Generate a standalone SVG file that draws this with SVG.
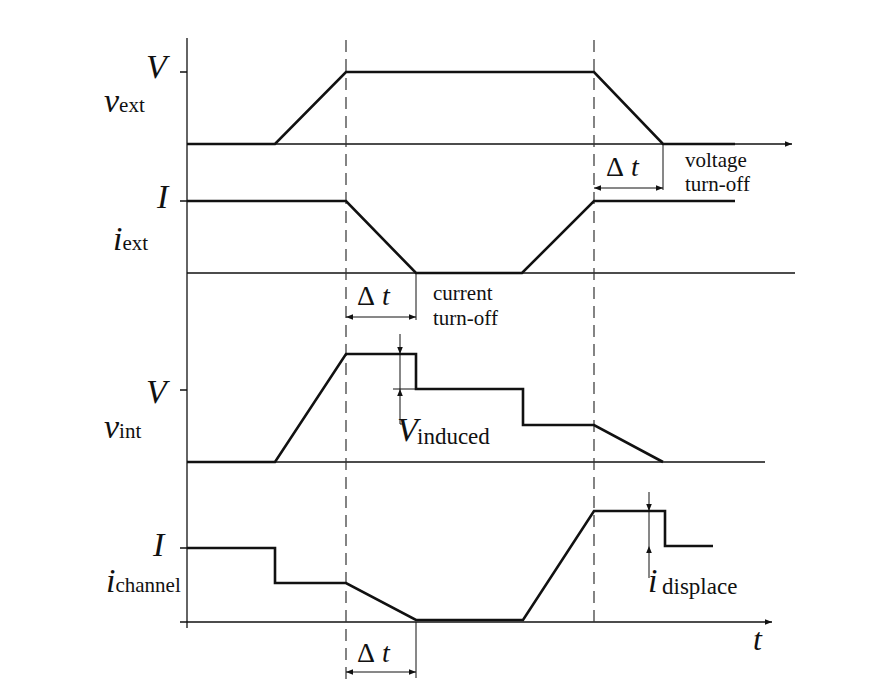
<svg xmlns="http://www.w3.org/2000/svg" width="884" height="686" viewBox="0 0 884 686">
<style>
.ax{stroke:#111;stroke-width:1.3;fill:none}
.w{stroke:#111;stroke-width:2.6;fill:none;stroke-linejoin:miter}
.d{stroke:#333;stroke-width:1.2;stroke-dasharray:12,7;fill:none}
.t{stroke:#111;stroke-width:1;fill:none}
.L{font-family:"Liberation Serif",serif;font-style:italic;fill:#111}
.s{font-family:"Liberation Serif",serif;font-style:normal;fill:#111}
.n{font-family:"Liberation Serif",serif;font-size:21px;fill:#111}
</style>
<defs>
<marker id="ah" viewBox="0 0 10 10" refX="10" refY="5" markerWidth="12" markerHeight="7" markerUnits="userSpaceOnUse" orient="auto"><path d="M0,1 L10,5 L0,9 Z" fill="#111"/></marker>
</defs>
<rect width="884" height="686" fill="#fff"/>
<g id="axes">
<line class="ax" x1="187" y1="38" x2="187" y2="628"/>
<line class="ax" x1="187" y1="144" x2="792" y2="144" marker-end="url(#ah)"/>
<line class="ax" x1="187" y1="273" x2="795" y2="273"/>
<line class="ax" x1="187" y1="462" x2="765" y2="462"/>
<line class="ax" x1="180" y1="622" x2="772" y2="622" marker-end="url(#ah)"/>
<path class="ax" d="M180,72H187M180,201H187M180,390H187M180,548H187"/>
<line class="d" x1="346" y1="40" x2="346" y2="682"/>
<line class="d" x1="594" y1="40" x2="594" y2="626"/>
</g>
<g id="connectors">
<path class="w" d="M187,144H275L346,72H594L663,144H735"/>
<path class="w" d="M187,201H346L416,273H522L594,201H735"/>
<path class="w" d="M187,462H275L346,354H416V389H523V425H594L663,462"/>
<path class="w" d="M187,548H275V583H346L416,620H523L594,511H665V546H713"/>
<path class="t" d="M663,144V190"/>
<line class="t" x1="628" y1="188" x2="594" y2="188" marker-end="url(#ah)"/>
<line class="t" x1="628" y1="188" x2="663" y2="188" marker-end="url(#ah)"/>
<path class="t" d="M416,273V320"/>
<line class="t" x1="381" y1="317" x2="346" y2="317" marker-end="url(#ah)"/>
<line class="t" x1="381" y1="317" x2="416" y2="317" marker-end="url(#ah)"/>
<path class="t" d="M416,622V678"/>
<line class="t" x1="381" y1="672" x2="346" y2="672" marker-end="url(#ah)"/>
<line class="t" x1="381" y1="672" x2="416" y2="672" marker-end="url(#ah)"/>
<line class="t" x1="400" y1="334" x2="400" y2="354" marker-end="url(#ah)"/>
<line class="t" x1="400" y1="354" x2="400" y2="389"/>
<line class="t" x1="393" y1="389" x2="416" y2="389"/>
<line class="t" x1="400" y1="412" x2="400" y2="389" marker-end="url(#ah)"/>
<path class="t" d="M400,412V424H404"/>
<line class="t" x1="649" y1="492" x2="649" y2="511" marker-end="url(#ah)"/>
<line class="t" x1="649" y1="511" x2="649" y2="546"/>
<line class="t" x1="649" y1="566" x2="649" y2="546" marker-end="url(#ah)"/>
<path class="t" d="M649,566V578"/>
</g>
<g id="labels">
<text class="L" x="146" y="78" font-size="34">V</text>
<text class="L" x="104" y="112" font-size="34">v<tspan class="s" font-size="21">ext</tspan></text>
<text class="L" x="157" y="208" font-size="34">I</text>
<text class="L" x="113" y="250" font-size="34">i<tspan class="s" font-size="21">ext</tspan></text>
<text class="L" x="146" y="403" font-size="34">V</text>
<text class="L" x="104" y="438" font-size="34">v<tspan class="s" font-size="21">int</tspan></text>
<text class="L" x="153" y="556" font-size="34">I</text>
<text class="L" x="106" y="592" font-size="34">i<tspan class="s" font-size="21">channel</tspan></text>
<text class="L" x="397" y="441" font-size="34">V</text>
<text class="s" x="417" y="444" font-size="23">induced</text>
<text class="L" x="648" y="592" font-size="34">i</text>
<text class="s" x="662" y="594" font-size="23">displace</text>
<text class="L" x="753" y="650" font-size="32">t</text>
<text class="L" x="606" y="176" font-size="28"><tspan class="s">Δ</tspan> t</text>
<text class="L" x="357" y="305" font-size="28"><tspan class="s">Δ</tspan> t</text>
<text class="L" x="357" y="662" font-size="28"><tspan class="s">Δ</tspan> t</text>
<text class="n" x="685" y="167">voltage</text>
<text class="n" x="685" y="191">turn-off</text>
<text class="n" x="433" y="300">current</text>
<text class="n" x="433" y="325">turn-off</text>
</g>
</svg>
